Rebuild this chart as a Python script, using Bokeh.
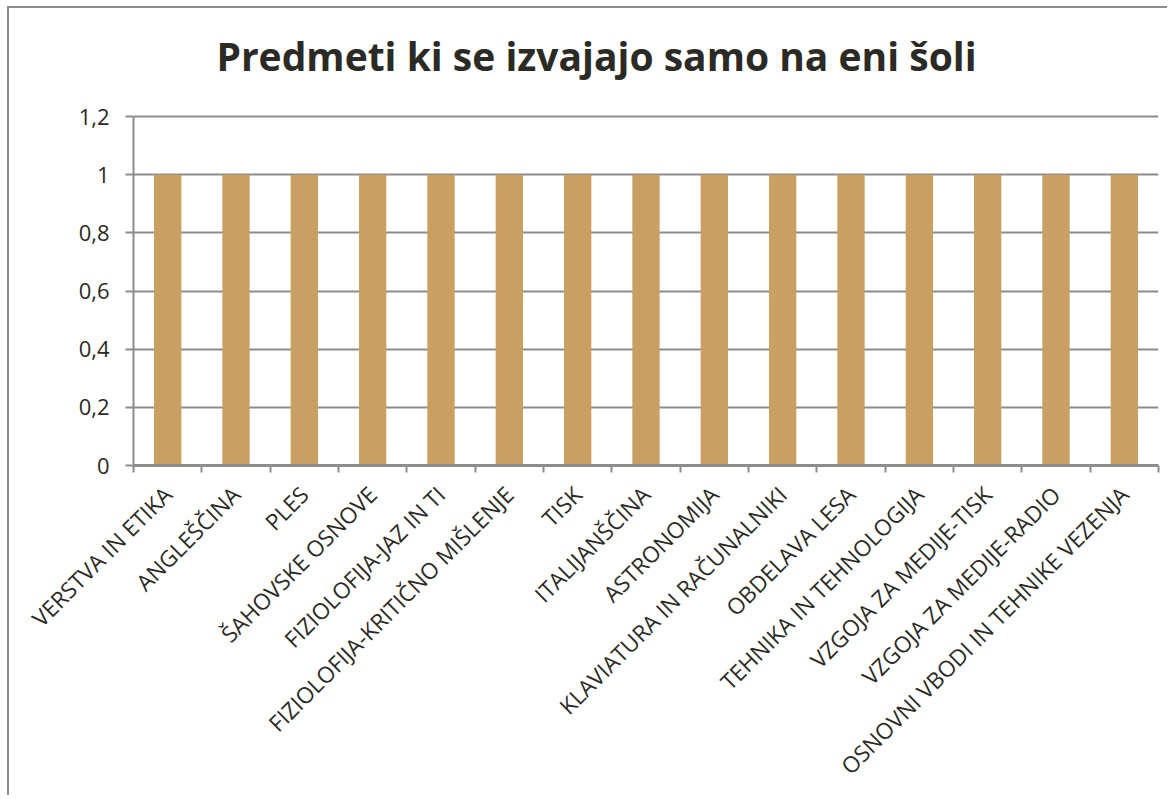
import math
from bokeh.plotting import figure
from bokeh.models import Range1d, FixedTicker, Label, ColumnDataSource
from bokeh.embed import file_html
from bokeh.resources import INLINE

title_text = "Predmeti ki se izvajajo samo na eni šoli"
categories = [
    "VERSTVA IN ETIKA",
    "ANGLEŠČINA",
    "PLES",
    "ŠAHOVSKE OSNOVE",
    "FIZIOLOFIJA-JAZ IN TI",
    "FIZIOLOFIJA-KRITIČNO MIŠLENJE",
    "TISK",
    "ITALIJANŠČINA",
    "ASTRONOMIJA",
    "KLAVIATURA IN RAČUNALNIKI",
    "OBDELAVA LESA",
    "TEHNIKA IN TEHNOLOGIJA",
    "VZGOJA ZA MEDIJE-TISK",
    "VZGOJA ZA MEDIJE-RADIO",
    "OSNOVNI VBODI IN TEHNIKE VEZENJA",
]
values = [1, 1, 1, 1, 1, 1, 1, 1, 1, 1, 1, 1, 1, 1, 1]
y_ticks = [0, 0.2, 0.4, 0.6, 0.8, 1.0, 1.2]
y_tick_labels = ["0", "0,2", "0,4", "0,6", "0,8", "1", "1,2"]
y_max = 1.2

TEXT = "#2b2a24"
GRAY = "#8c8c8c"
BAR = "#c9a061"
FONT = "Open Sans"

# layout (pixels)
FIG_H = 789
FRAME_H = 457          # frame spans from top of figure down to the x axis
AXIS_H = 349           # pixel height from 0 to 1.2
n = len(categories)
centers = [i + 0.5 for i in range(n)]
bounds = [i for i in range(n + 1)]

p = figure(
    width=1160, height=FIG_H,
    x_range=Range1d(0, n), y_range=Range1d(0, y_max * FRAME_H / AXIS_H),
    output_backend="svg", toolbar_location=None,
    min_border_left=124, min_border_right=11,
    min_border_top=0, min_border_bottom=FIG_H - FRAME_H,
)
p.styles = {
    "border-left": "2px solid #8c8c8c",
    "border-top": "2px solid #8c8c8c",
    "margin-left": "7px",
    "margin-top": "6px",
}
p.outline_line_color = None
p.background_fill_color = "white"
p.border_fill_color = "white"

src = ColumnDataSource(dict(x=centers, top=values))
p.vbar(x="x", top="top", width=0.4, source=src, fill_color=BAR, line_color=None)

# chart title (screen units, relative to the frame's bottom-left corner)
title = Label(x=463, y=410, x_units="screen", y_units="screen", text=title_text,
              text_align="center", text_baseline="alphabetic",
              text_font=FONT, text_font_size="39px", text_font_style="bold",
              text_color=TEXT)
p.add_layout(title)

# grid
p.xgrid.visible = False
p.ygrid.grid_line_color = GRAY
p.ygrid.grid_line_width = 2

# x axis
xa = p.xaxis[0]
xa.ticker = FixedTicker(ticks=centers, minor_ticks=bounds)
xa.major_label_overrides = {c: lab for c, lab in zip(centers, categories)}
xa.major_label_orientation = math.pi / 4
xa.major_label_text_font = FONT
xa.major_label_text_font_size = "22.5px"
xa.major_label_text_color = TEXT
xa.major_label_standoff = 18
xa.major_tick_in = 0
xa.major_tick_out = 0
xa.minor_tick_in = 0
xa.minor_tick_out = 7
xa.minor_tick_line_color = GRAY
xa.minor_tick_line_width = 2
xa.axis_line_color = GRAY
xa.axis_line_width = 3

# y axis
ya = p.yaxis[0]
ya.bounds = (0, y_max)
ya.ticker = FixedTicker(ticks=y_ticks, minor_ticks=[])
ya.major_label_overrides = {v: lab for v, lab in zip(y_ticks, y_tick_labels)}
ya.major_label_text_font = FONT
ya.major_label_text_font_size = "22px"
ya.major_label_text_color = TEXT
ya.major_label_standoff = 16
ya.major_tick_in = 0
ya.major_tick_out = 8
ya.major_tick_line_color = GRAY
ya.major_tick_line_width = 2
ya.minor_tick_line_color = None
ya.axis_line_color = GRAY
ya.axis_line_width = 2

open("out.html", "w").write(file_html(p, INLINE))
